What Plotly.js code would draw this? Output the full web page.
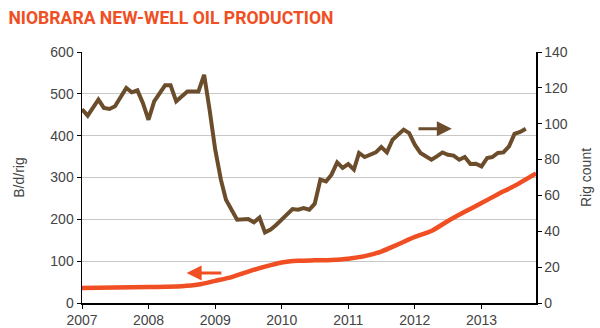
<!DOCTYPE html>
<html>
<head>
<meta charset="utf-8">
<script src="https://cdn.plot.ly/plotly-3.0.1.min.js"></script>
<style>html,body{margin:0;padding:0;background:#fff;}#chart{width:600px;height:328px;}</style>
</head>
<body>
<div id="chart"></div>
<script>
// Rig count (right axis), monthly readings
const rigDates = ["2007-01-01","2007-02-01","2007-04-01","2007-05-01","2007-06-01","2007-07-01","2007-09-01","2007-10-01","2007-11-01","2007-12-01",
"2008-01-01","2008-02-01","2008-04-01","2008-05-01","2008-06-01","2008-08-01","2008-10-01","2008-11-01","2008-12-01",
"2009-01-01","2009-02-01","2009-03-01","2009-05-01","2009-06-01","2009-07-01","2009-08-01","2009-09-01","2009-10-01","2009-11-01","2009-12-01",
"2010-01-01","2010-03-01","2010-04-01","2010-05-01","2010-06-01","2010-07-01","2010-08-01","2010-09-01","2010-10-01","2010-11-01","2010-12-01",
"2011-01-01","2011-02-01","2011-03-01","2011-04-01","2011-06-01","2011-07-01","2011-08-01","2011-09-01","2011-11-01","2011-12-01",
"2012-01-01","2012-02-01","2012-04-01","2012-05-01","2012-06-01","2012-07-01","2012-08-01","2012-09-01","2012-10-01","2012-11-01","2012-12-01",
"2013-01-01","2013-02-01","2013-03-01","2013-04-01","2013-05-01","2013-06-01","2013-07-01","2013-08-01","2013-09-01"];
const rigCount = [108,104.5,113.4,108.8,108.2,109.7,119.9,117.5,118.6,111.6,
102.2,112.5,121.4,121.4,112.5,118,118,127.3,107.8,
85.5,68.8,57.6,46.5,46.9,46.9,45,47.6,39.4,41,43.5,
46.5,52.4,52,53,52,55.4,68.8,67.8,71.6,78.4,75.3,
77.5,74.4,83.7,81.4,84,87,84,91.1,96.7,94.8,
88.3,83.7,79.9,81.8,84,82.7,82.2,79.9,81.4,77.5,77.7,
76.2,80.9,81.4,83.7,84,87.4,94.3,95.4,97.2];

// Barrels per day per rig (left axis)
const prodDates = ["2007-01-01","2007-07-01","2008-01-01","2008-07-01","2008-10-01","2009-01-01","2009-04-01","2009-07-01","2009-10-01",
"2010-01-01","2010-04-01","2010-07-01","2010-10-01","2011-01-01","2011-04-01","2011-07-01","2011-10-01",
"2012-01-01","2012-04-01","2012-07-01","2012-10-01","2013-01-01","2013-04-01","2013-07-01","2013-10-27"];
const bdRig = [36,37,38,40,44,53,62,75,87,
97,101,102,103,106,112,123,140,
158,172,196,218,239,260,280,310];

const brown = "#6b4d2c";
const red = "#f04e23";
const baseFont = "Liberation Sans, Arial, sans-serif";
const tickFont = {family: baseFont, size: 14, color: "#444"};

const traces = [
  {x: prodDates, y: bdRig, type: "scatter", mode: "lines", line: {color: red, width: 4.5, shape: "spline", smoothing: 0.6}, yaxis: "y", hoverinfo: "skip"},
  {x: rigDates, y: rigCount, type: "scatter", mode: "lines", line: {color: brown, width: 4}, yaxis: "y2", hoverinfo: "skip"}
];

const layout = {
  width: 600, height: 328,
  margin: {l: 82, r: 64, t: 52, b: 25},
  paper_bgcolor: "#fff", plot_bgcolor: "#fff",
  showlegend: false,
  title: {text: "NIOBRARA NEW-WELL OIL PRODUCTION", x: 0.014, xanchor: "left", y: 0.945, yanchor: "middle",
          font: {family: "Roboto, sans-serif", size: 17.6, color: red, weight: "bold"}},
  xaxis: {type: "date", range: ["2007-01-01", "2013-10-27"], tickformat: "%Y", dtick: "M12", tick0: "2007-01-01",
          showgrid: false, zeroline: false, showline: true, linecolor: "#000", linewidth: 1.5,
          ticks: "outside", ticklen: 4, tickcolor: "#000", tickfont: tickFont},
  yaxis: {range: [0, 600], dtick: 100, showgrid: true, gridcolor: "#c8c8c8", gridwidth: 1.2, zeroline: false,
          showline: true, linecolor: "#000", linewidth: 1.5, ticks: "outside", ticklen: 4, tickcolor: "#000",
          tickfont: tickFont, title: {text: "B/d/rig", font: {family: baseFont, size: 14, color: "#444"}, standoff: 22}},
  yaxis2: {range: [0, 140], dtick: 20, overlaying: "y", side: "right", showgrid: false, zeroline: false,
           showline: true, linecolor: "#000", linewidth: 1.5, ticks: "outside", ticklen: 4, tickcolor: "#000",
           tickfont: tickFont, title: {text: "Rig count", font: {family: baseFont, size: 14, color: "#444"}, standoff: 14}},
  annotations: [
    {x: "2008-07-28", y: 72, ax: "2009-02-12", ay: 72, xref: "x", yref: "y", axref: "x", ayref: "y",
     showarrow: true, arrowhead: 2, arrowsize: 1, arrowwidth: 3, arrowcolor: red, text: ""},
    {x: "2012-07-22", y: 97.2, ax: "2012-01-13", ay: 97.2, xref: "x", yref: "y2", axref: "x", ayref: "y2",
     showarrow: true, arrowhead: 2, arrowsize: 1, arrowwidth: 3, arrowcolor: brown, text: ""}
  ]
};

Plotly.newPlot("chart", traces, layout, {displayModeBar: false, staticPlot: true});
</script>
</body>
</html>
